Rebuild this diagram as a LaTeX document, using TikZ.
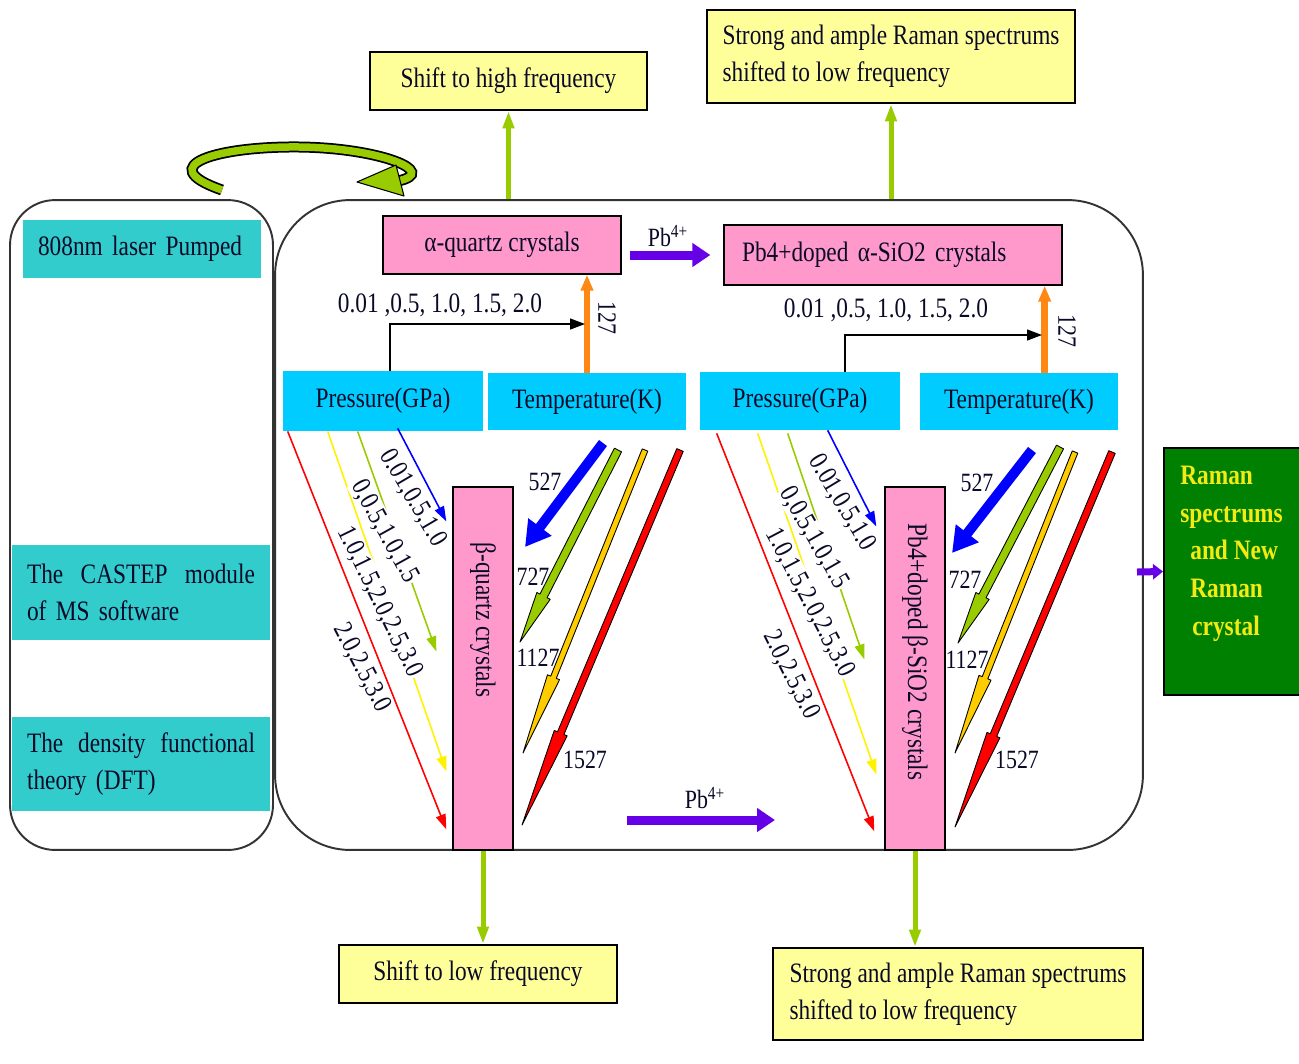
\documentclass[tikz,border=0pt]{standalone}
\usepackage{fontspec}
\setmainfont[FakeStretch=0.83]{Liberation Serif}
\usetikzlibrary{arrows.meta,calc}
\definecolor{ycol}{RGB}{255,255,153}
\definecolor{pcol}{RGB}{255,153,204}
\definecolor{ccol}{RGB}{0,204,255}
\definecolor{tcol}{RGB}{51,204,204}
\definecolor{gcol}{RGB}{153,204,0}
\definecolor{ocol}{RGB}{255,136,20}
\definecolor{vcol}{RGB}{102,0,230}
\definecolor{dgcol}{RGB}{0,128,0}
\definecolor{gtcol}{RGB}{245,235,20}
\definecolor{goldcol}{RGB}{255,204,0}
\definecolor{txtcol}{RGB}{10,10,40}
% outlined tapered arrow: colour, start, tip, head fraction, half shaft, half head
\newcommand\tarr[6]{%
  \coordinate (ta) at #2; \coordinate (tb) at #3;
  \coordinate (tc) at ($(ta)!#4!(tb)$);
  \filldraw[fill=#1,draw=black,line width=0.5pt,line join=round]
   ($(ta)!#5!90:(tb)$) -- ($(tc)!#5!90:(tb)$) -- ($(tc)!#6!90:(tb)$) -- (tb)
   -- ($(tc)!#6!-90:(tb)$) -- ($(tc)!#5!-90:(tb)$) -- ($(ta)!#5!-90:(tb)$) -- cycle;}
\begin{document}
\begin{tikzpicture}[x=0.02cm,y=-0.02cm,
 tx/.style={font=\fontsize{16}{21}\selectfont,text=txtcol},
 ybox/.style={tx,draw=black,line width=1.1pt,fill=ycol,inner sep=0pt},
 pbox/.style={tx,draw=black,line width=0.8pt,fill=pcol,inner sep=0pt},
 cbox/.style={tx,fill=ccol,inner sep=0pt},
 tbox/.style={tx,fill=tcol,inner sep=0pt},
 panel/.style={draw=black!80,line width=1.1pt},
 garrow/.style={draw=gcol,line width=0.1cm,-{Triangle[length=0.35cm,width=0.22cm]}},
 oarrow/.style={draw=ocol,line width=0.13cm,-{Triangle[length=0.32cm,width=0.24cm]}},
 barrow/.style={draw=black,line width=0.8pt,-{Triangle[length=0.3cm,width=0.22cm]}},
 parrow/.style={draw=vcol,line width=0.18cm,-{Triangle[length=0.36cm,width=0.46cm]}},
 darrow/.style={line width=0.9pt,-{Triangle[length=0.3cm,width=0.2cm]}},
 dlab/.style={font=\fontsize{15.5}{18}\selectfont,text=txtcol,fill=white,inner sep=0.5pt},
 nlab/.style={font=\fontsize{15}{18}\selectfont,text=txtcol,inner sep=0pt},
]
\useasboundingbox (0,0) rectangle (1299,1063);
\clip (0,0) rectangle (1299,1063);

% panels
\node[panel,rounded corners=0.9cm,minimum width=5.26cm,minimum height=13cm] (lp) at (141.5,525) {};
\node[panel,rounded corners=1.5cm,minimum width=17.36cm,minimum height=13cm] (main) at (709,525) {};

% curved green arrow
\draw[line width=0.22cm,black] (222,190) .. controls (150,165) and (220,146) .. (300,147) .. controls (380,148) and (440,172) .. (398,181);
\draw[line width=0.15cm,gcol] (222,190) .. controls (150,165) and (220,146) .. (300,147) .. controls (380,148) and (440,172) .. (398,181);
\filldraw[fill=gcol,draw=black,line width=0.6pt,line join=round] (357,182) -- (396,165) -- (404,196) -- cycle;

% yellow result boxes
\node[ybox,minimum width=5.54cm,minimum height=1.16cm] (yt1) at (508.5,81) {Shift to high frequency};
\node[ybox,minimum width=7.36cm,minimum height=1.86cm,align=left] (yt2) at (891,56.5) {Strong and ample Raman spectrums\\shifted to low frequency};
\node[ybox,minimum width=5.56cm,minimum height=1.16cm] (yb1) at (478,974) {Shift to low frequency};
\node[ybox,minimum width=7.4cm,minimum height=1.84cm,align=left] (yb2) at (958,994) {Strong and ample Raman spectrums\\shifted to low frequency};

% left panel boxes
\node[tbox,text width=4.16cm,inner xsep=0.3cm,minimum height=1.16cm,align=left] (L1) at (142,249) {808nm laser Pumped};
\node[tbox,text width=4.56cm,inner xsep=0.3cm,minimum height=1.9cm,align=left] (L2) at (141,592.5) {The\hfill CASTEP\hfill module\\of MS software};
\node[tbox,text width=4.56cm,inner xsep=0.3cm,minimum height=1.88cm,align=left] (L3) at (141,764) {The\hfill density\hfill functional\\theory (DFT)};

% crystal boxes
\node[pbox,minimum width=4.76cm,minimum height=1.16cm] (a1) at (502,245) {α-quartz crystals};
\node[pbox,text width=6.04cm,inner xsep=0.36cm,minimum height=1.2cm,align=left] (a2) at (893,255) {Pb4+doped α-SiO2 crystals};
\node[pbox,minimum width=1.2cm,minimum height=7.26cm] (b1) at (483,668.5) {};
\node[tx,rotate=-90] (b1t) at (483,620) {β-quartz crystals};
\node[pbox,minimum width=1.2cm,minimum height=7.26cm] (b2) at (915,668.5) {};
\node[tx,rotate=-90] (b2t) at (915,652) {Pb4+doped β-SiO2 crystals};

% pressure / temperature boxes
\node[cbox,minimum width=4cm,minimum height=1.2cm] (P1) at (383,401) {Pressure(GPa)};
\node[cbox,minimum width=3.96cm,minimum height=1.14cm] (T1) at (587,401.5) {Temperature(K)};
\node[cbox,minimum width=4cm,minimum height=1.16cm] (P2) at (800,401) {Pressure(GPa)};
\node[cbox,minimum width=3.96cm,minimum height=1.14cm] (T2) at (1019,401.5) {Temperature(K)};

% green box
\node[draw=black,line width=1pt,fill=dgcol,minimum width=3cm,minimum height=4.94cm,anchor=west] (gb) at (1163,571.5) {};
\node[font=\bfseries\fontsize{16}{21.4}\selectfont,text=gtcol,align=left,anchor=north west,inner sep=0pt] (gbt) at (1180,466) {Raman\\spectrums\\\hspace{0.2cm}and New\\\hspace{0.2cm}Raman\\\hspace{0.24cm}crystal};

% green arrows to result boxes
\draw[garrow] (yt1.south |- main.north) -- (yt1.south);
\draw[garrow] (yt2.south |- main.north) -- (yt2.south);
\draw[garrow] (b1.south) -- (b1.south |- yb1.north);
\draw[garrow] (b2.south) -- (b2.south |- yb2.north);

% orange 127 arrows
\draw[oarrow] (T1.north) -- (T1.north |- a1.south);
\coordinate (o2) at ($(T2.north west)+(125,0)$);
\draw[oarrow] (o2) -- (o2 |- a2.south);
\node[nlab,rotate=-90] (t127a) at (607,318) {127};
\node[nlab,rotate=-90] (t127b) at (1067,331) {127};

% black elbow arrows
\coordinate (e1s) at ($(P1.north)+(7,0)$);
\coordinate (e1) at (585,324);
\draw[barrow] (e1s) |- (e1);
\coordinate (e2s) at ($(P2.north)+(45,0)$);
\coordinate (e2) at (1042,335);
\draw[barrow] (e2s) |- (e2);
\node[tx] (pv1) at (440,305) {0.01 ,0.5, 1.0, 1.5, 2.0};
\node[tx] (pv2) at (886,310) {0.01 ,0.5, 1.0, 1.5, 2.0};

% Pb4+ arrows
\draw[parrow,shorten <=0.16cm,shorten >=0.26cm] (a1.east |- a2.west) -- (a2.west);
\node[nlab] (pb1) at (668,236) {Pb\textsuperscript{4+}};
\coordinate (pc) at (627,820);
\coordinate (pd) at (775,820);
\draw[parrow] (pc) -- (pd);
\node[nlab] (pb2) at (705,798) {Pb\textsuperscript{4+}};
\coordinate (pe) at (1137,572);
\draw[draw=vcol,line width=0.14cm,-{Triangle[length=0.2cm,width=0.3cm]}] (pe) -- (gb.west);

% pressure arrows, left
\draw[darrow,red]    ($(P1.south west)+(5,0)$)   -- ($(b1.north west)+(-6,343)$);
\draw[darrow,yellow] ($(P1.south west)+(45,0)$)  -- ($(b1.north west)+(-6,285)$);
\draw[darrow,gcol]   ($(P1.south west)+(75,0)$)  -- ($(b1.north west)+(-16,165)$);
\draw[darrow,blue]   ($(P1.south west)+(115,-3)$) -- ($(b1.north west)+(-6,35)$);
\node[dlab,rotate=-59.5] (d1) at (413,498) {0.01,0.5,1.0};
\node[dlab,rotate=-61] (d2) at (385,532) {0,0.5,1.0,1.5};
\node[dlab,rotate=-64] (d3) at (380,602) {1.0,1.5,2.0,2.5,3.0};
\node[dlab,rotate=-62.6] (d4) at (362,668) {2.0,2.5,3.0};

% pressure arrows, right
\draw[darrow,red]    ($(P2.south west)+(17,3)$)  -- ($(b2.north west)+(-10,345)$);
\draw[darrow,yellow] ($(P2.south west)+(58,3)$)  -- ($(b2.north west)+(-8,288)$);
\draw[darrow,gcol]   ($(P2.south west)+(88,3)$)  -- ($(b2.north west)+(-20,173)$);
\draw[darrow,blue]   ($(P2.south west)+(128,0)$) -- ($(b2.north west)+(-8,40)$);
\node[dlab,rotate=-59] (d5) at (842,503) {0.01,0.5,1.0};
\node[dlab,rotate=-60] (d6) at (814,538) {0,0.5,1.0,1.5};
\node[dlab,rotate=-62.3] (d7) at (810,603) {1.0,1.5,2.0,2.5,3.0};
\node[dlab,rotate=-63.4] (d8) at (791,675) {2.0,2.5,3.0};

% temperature labels
\node[nlab] (k1) at (545,482) {527};
\node[nlab] (k2) at (533,577) {727};
\node[nlab] (k3) at (538,658) {1127};
\node[nlab] (k4) at (585,760) {1527};
\node[nlab] (k5) at (977,483) {527};
\node[nlab] (k6) at (965,580) {727};
\node[nlab] (k7) at (967,660) {1127};
\node[nlab] (k8) at (1017,760) {1527};

% temperature arrows, left
\draw[blue,line width=0.2cm,-{Triangle[length=0.5cm,width=0.55cm]}] (603,443) -- (525,547);
\tarr{gcol}{(618,450)}{(520,642)}{0.76}{0.08cm}{0.15cm}
\tarr{goldcol}{(645,450)}{(523,753)}{0.75}{0.06cm}{0.13cm}
\tarr{red}{(680,450)}{(522,825)}{0.755}{0.07cm}{0.14cm}
% temperature arrows, right
\draw[blue,line width=0.2cm,-{Triangle[length=0.5cm,width=0.55cm]}] (1032,450) -- (952,553);
\tarr{gcol}{(1060,447)}{(958,643)}{0.76}{0.08cm}{0.15cm}
\tarr{goldcol}{(1075,452)}{(955,753)}{0.75}{0.06cm}{0.13cm}
\tarr{red}{(1112,452)}{(955,827)}{0.755}{0.07cm}{0.14cm}
\end{tikzpicture}
\end{document}
